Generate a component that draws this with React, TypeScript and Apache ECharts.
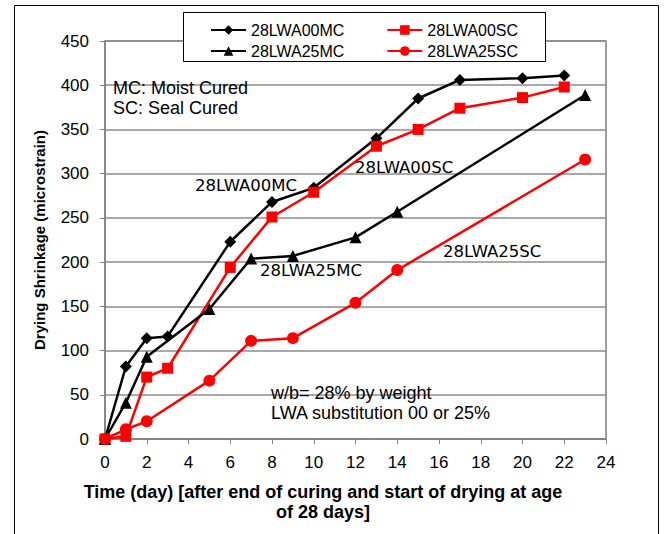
import React, { useEffect, useRef } from "react";
import * as echarts from "echarts";

const daysA00MC = [0, 1, 2, 3, 6, 8, 10, 13, 15, 17, 20, 22];
const valsA00MC = [0, 82, 114, 116, 223, 268, 284, 340, 385, 406, 408, 411];
const daysA00SC = [0, 1, 2, 3, 6, 8, 10, 13, 15, 17, 20, 22];
const valsA00SC = [0, 3, 70, 80, 194, 251, 279, 331, 350, 374, 386, 398];
const daysA25MC = [0, 1, 2, 5, 7, 9, 12, 14, 23];
const valsA25MC = [0, 41, 93, 147, 204, 207, 228, 257, 389];
const daysA25SC = [0, 1, 2, 5, 7, 9, 12, 14, 23];
const valsA25SC = [0, 11, 20, 66, 111, 114, 154, 191, 316];

const seriesNames = ["28LWA00MC", "28LWA00SC", "28LWA25MC", "28LWA25SC"];
const xTicks = { min: 0, max: 24, interval: 2 };
const yTicks = { min: 0, max: 450, interval: 50 };

const pairs = (xs: number[], ys: number[]) => xs.map((x, i) => [x, ys[i]]);

export default function App() {
  const ref = useRef<HTMLDivElement>(null);
  useEffect(() => {
    if (!ref.current) return;
    const chart = echarts.init(ref.current, null, { renderer: "svg" });
    const font = "Liberation Sans";
    const annFont = "DejaVu Sans";
    const legendCommon = {
      itemWidth: 35,
      itemHeight: 12,
      itemGap: 42,
      orient: "horizontal",
      textStyle: { fontSize: 16, fontFamily: font, color: "#000" },
      z: 10,
    };
    chart.setOption({
      animation: false,
      backgroundColor: "#fff",
      grid: {
        left: 105,
        right: 58,
        top: 41,
        bottom: 95,
        show: true,
        borderColor: "#808080",
        borderWidth: 1.5,
      },
      legend: [
        { ...legendCommon, left: 205, top: 17, data: [seriesNames[0], seriesNames[1]] },
        { ...legendCommon, left: 205, top: 38, data: [seriesNames[2], seriesNames[3]] },
      ],
      xAxis: {
        type: "value",
        min: xTicks.min,
        max: xTicks.max,
        interval: xTicks.interval,
        axisLine: { show: true, lineStyle: { color: "#808080", width: 1.5 } },
        axisTick: { show: true, inside: false, length: 5, lineStyle: { color: "#808080" } },
        axisLabel: { fontSize: 17, fontFamily: font, color: "#000", margin: 15 },
        splitLine: { show: false },
      },
      yAxis: {
        type: "value",
        min: yTicks.min,
        max: yTicks.max,
        interval: yTicks.interval,
        name: "Drying Shrinkage (microstrain)",
        nameLocation: "middle",
        nameGap: 58,
        nameTextStyle: { fontSize: 15, fontWeight: "bold", fontFamily: font, color: "#000" },
        axisLine: { show: true, lineStyle: { color: "#808080", width: 1.5 } },
        axisTick: { show: true, inside: false, length: 5, lineStyle: { color: "#808080" } },
        axisLabel: { fontSize: 17, fontFamily: font, color: "#000", margin: 16 },
        splitLine: { show: true, lineStyle: { color: "#8c8c8c", width: 1.5 } },
      },
      graphic: [
        {
          type: "rect",
          shape: { x: 14.5, y: 5.5, width: 644, height: 560 },
          style: { fill: "none", stroke: "#000", lineWidth: 1 },
          silent: true,
        },
        {
          type: "rect",
          z: 5,
          shape: { x: 183.5, y: 12.5, width: 362, height: 49 },
          style: { fill: "#fff", stroke: "#000", lineWidth: 1 },
          silent: true,
        },
        { type: "text", z: 5, x: 113, y: 88, style: { text: "MC: Moist Cured", font: `18px '${font}'`, fill: "#000", verticalAlign: "middle" } },
        { type: "text", z: 5, x: 113, y: 108, style: { text: "SC: Seal Cured", font: `18px '${font}'`, fill: "#000", verticalAlign: "middle" } },
        { type: "text", z: 5, x: 271, y: 393, style: { text: "w/b= 28% by weight", font: `18px '${font}'`, fill: "#000", verticalAlign: "middle" } },
        { type: "text", z: 5, x: 271, y: 413, style: { text: "LWA substitution 00 or 25%", font: `18px '${font}'`, fill: "#000", verticalAlign: "middle" } },
        { type: "text", z: 5, x: 195, y: 185, style: { text: "28LWA00MC", font: `16.5px '${annFont}'`, fill: "#000", verticalAlign: "middle" } },
        { type: "text", z: 5, x: 355, y: 167, style: { text: "28LWA00SC", font: `16.5px '${annFont}'`, fill: "#000", verticalAlign: "middle" } },
        { type: "text", z: 5, x: 260, y: 270, style: { text: "28LWA25MC", font: `16.5px '${annFont}'`, fill: "#000", verticalAlign: "middle" } },
        { type: "text", z: 5, x: 443, y: 251, style: { text: "28LWA25SC", font: `16.5px '${annFont}'`, fill: "#000", verticalAlign: "middle" } },
        {
          type: "text", z: 5, x: 323, y: 492,
          style: { text: "Time (day) [after end of curing and start of drying at age", font: `bold 18px '${font}'`, fill: "#000", align: "center", verticalAlign: "middle" },
        },
        {
          type: "text", z: 5, x: 323, y: 512,
          style: { text: "of 28 days]", font: `bold 18px '${font}'`, fill: "#000", align: "center", verticalAlign: "middle" },
        },
      ],
      series: [
        {
          name: seriesNames[0], type: "line", data: pairs(daysA00MC, valsA00MC),
          symbol: "diamond", symbolSize: 12, color: "#000",
          lineStyle: { color: "#000", width: 2.5 }, itemStyle: { color: "#000" },
        },
        {
          name: seriesNames[1], type: "line", data: pairs(daysA00SC, valsA00SC),
          symbol: "rect", symbolSize: 11, color: "#ff0000",
          lineStyle: { color: "#ff0000", width: 2.5 }, itemStyle: { color: "#ff0000" },
        },
        {
          name: seriesNames[2], type: "line", data: pairs(daysA25MC, valsA25MC),
          symbol: "triangle", symbolSize: 12, color: "#000",
          lineStyle: { color: "#000", width: 2.5 }, itemStyle: { color: "#000" },
        },
        {
          name: seriesNames[3], type: "line", data: pairs(daysA25SC, valsA25SC),
          symbol: "circle", symbolSize: 12, color: "#ff0000",
          lineStyle: { color: "#ff0000", width: 2.5 }, itemStyle: { color: "#ff0000" },
        },
      ],
    });
    return () => chart.dispose();
  }, []);
  return (
    <div
      ref={ref}
      style={{ position: "absolute", left: 0, top: 0, width: 664, height: 534 }}
    />
  );
}
